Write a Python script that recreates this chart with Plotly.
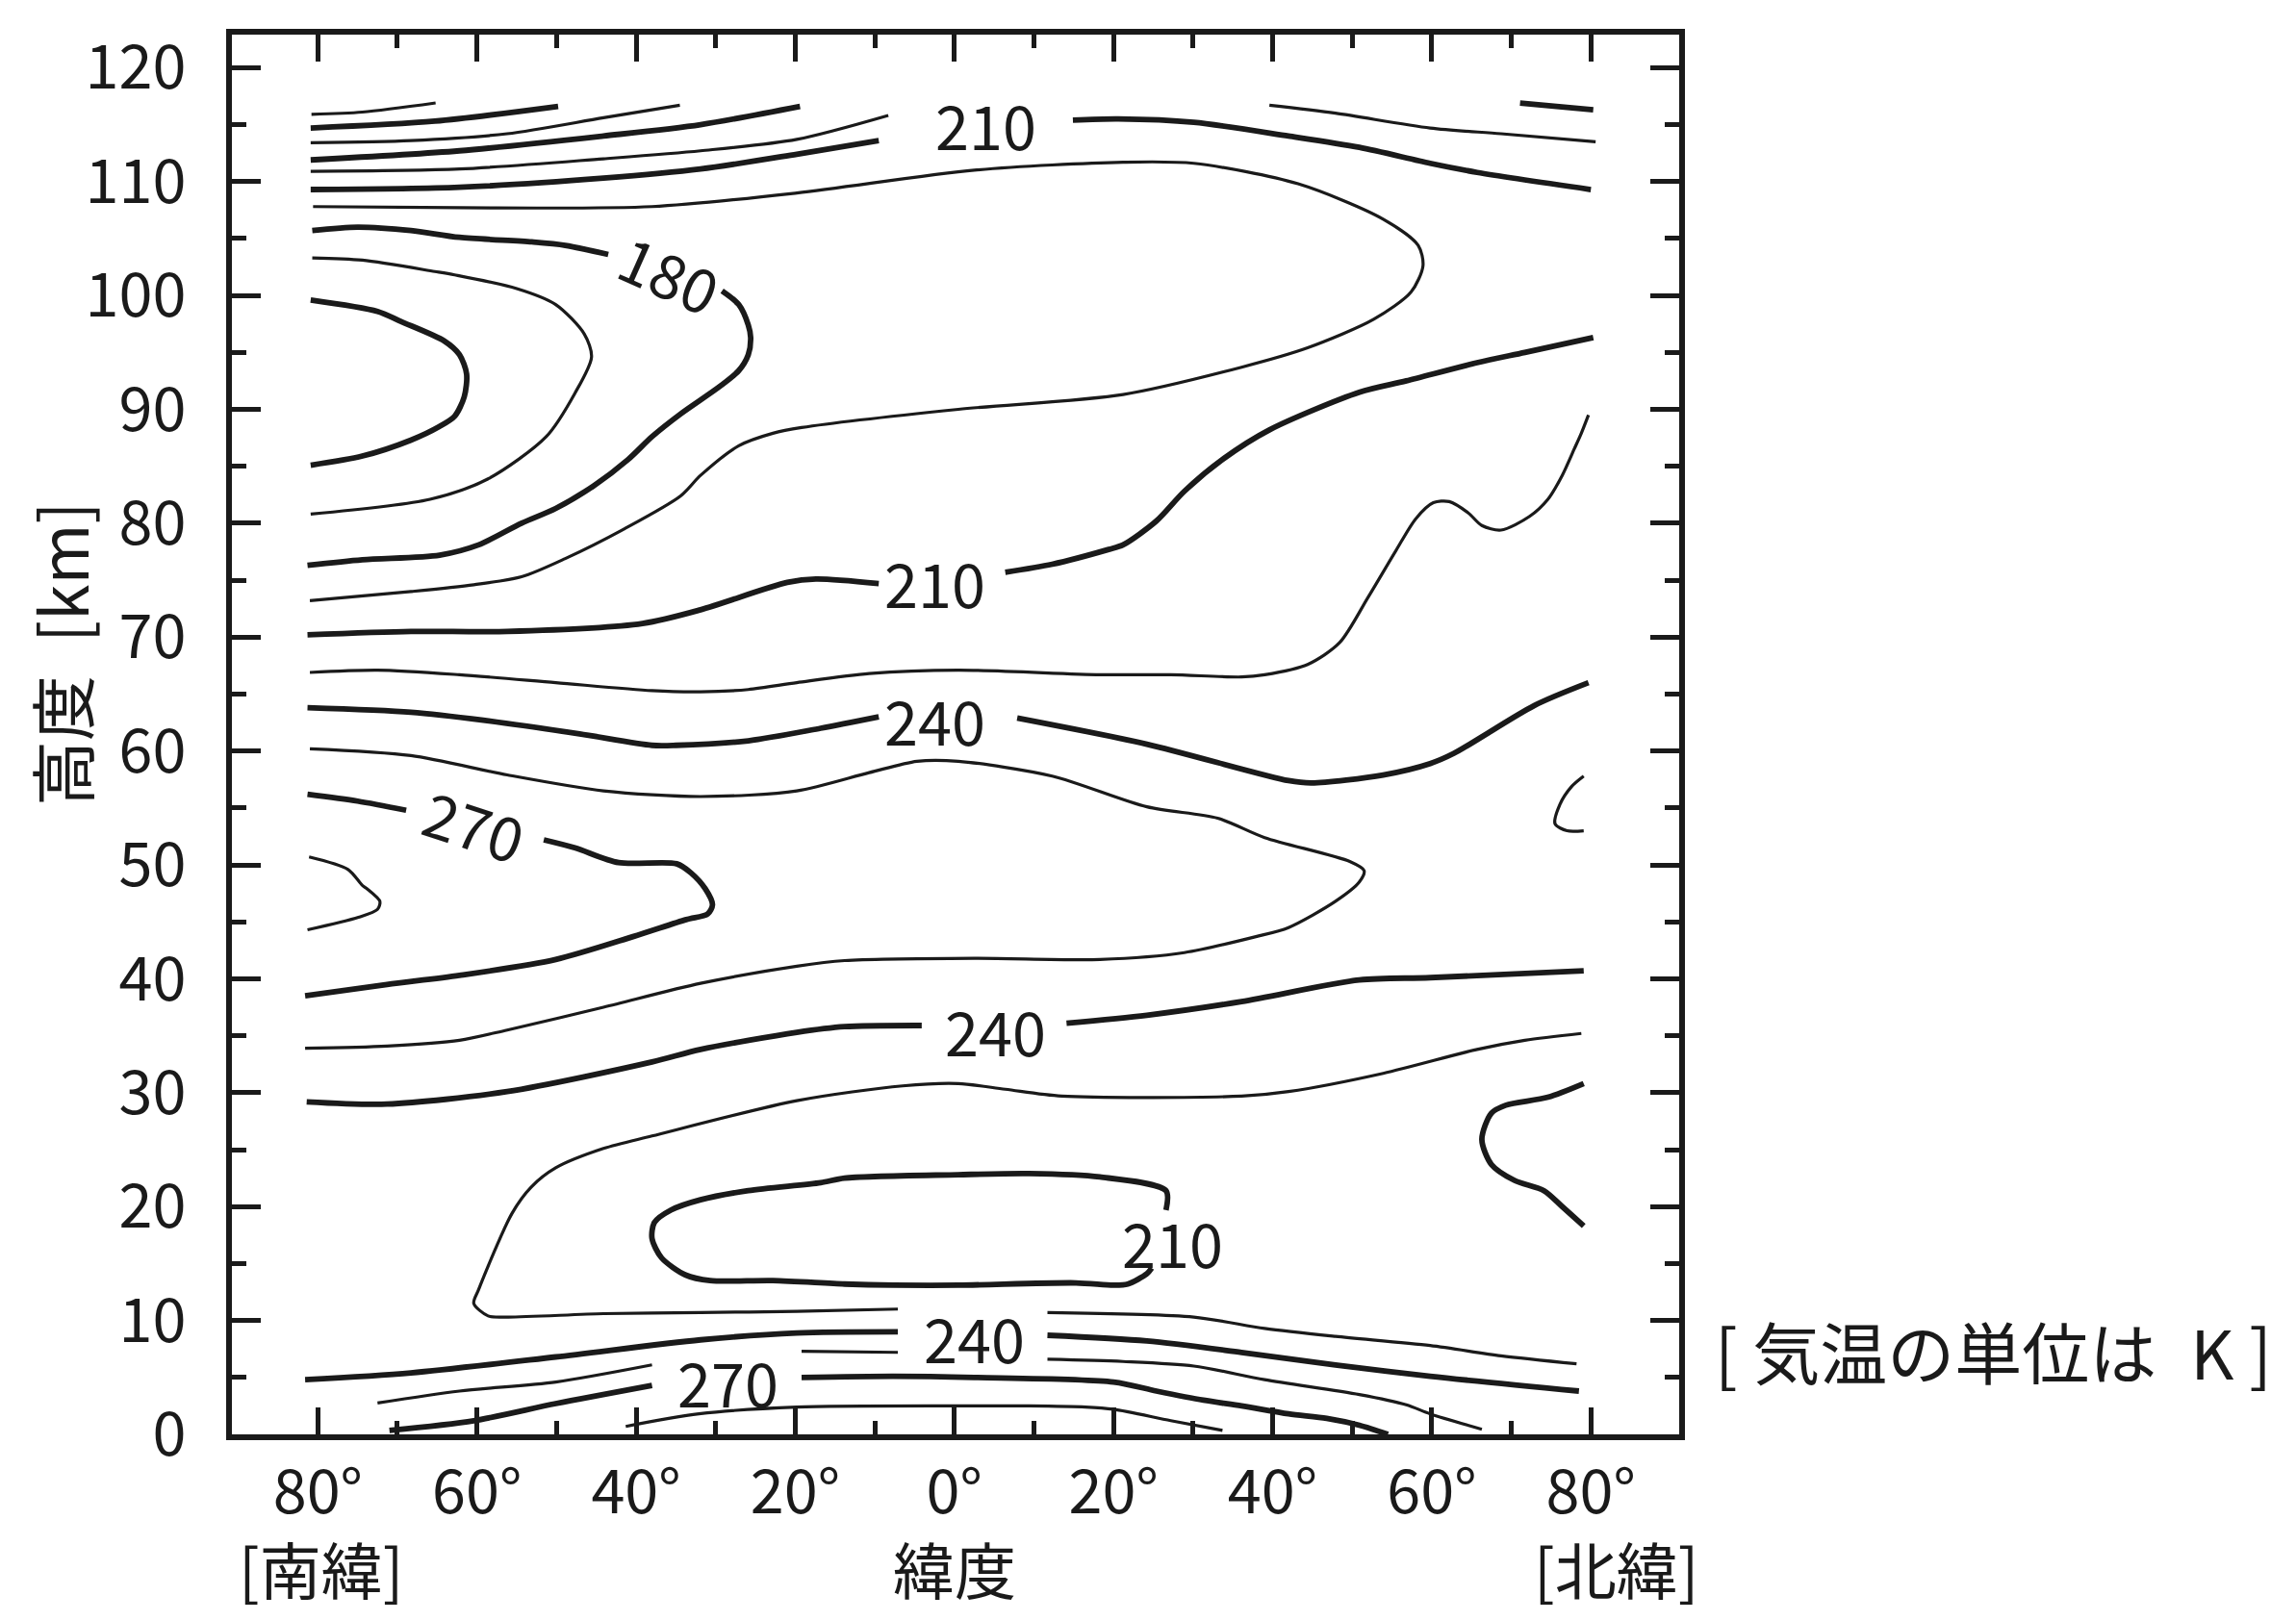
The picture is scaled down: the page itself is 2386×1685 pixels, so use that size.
import plotly.graph_objects as go

# Step 1: contour lines, as (latitude, altitude km) pairs.
# negative latitude = south. Name = temperature in K, suffix = piece of the line.
k285_top = [(-80.8, 115.9), (-74.4, 116.1), (-65.2, 116.9)]
k270_top = [(-80.9, 114.7), (-65.3, 115.3), (-49.8, 116.6)]
k255_top = [(-80.9, 113.4), (-68.3, 113.6), (-56.2, 114.2), (-44.1, 115.6), (-34.5, 116.7)]
k240_top = [(-80.9, 111.9), (-62.2, 112.7), (-44.1, 114.0), (-31.9, 115.0), (-19.4, 116.6)]
k240_top_r = [(71.1, 116.9), (80.3, 116.3)]
k225_top = [(-80.9, 110.9), (-62.2, 111.1), (-44.1, 112.0), (-31.9, 112.7), (-19.8, 113.7), (-8.3, 115.8)]
k225_top_r = [(39.6, 116.7), (47.9, 116.0), (59.8, 114.7), (68.7, 114.2), (80.6, 113.5)]
k210_top = [(-80.9, 109.3), (-62.2, 109.5), (-44.1, 110.3), (-31.9, 111.1), (-19.8, 112.4), (-9.5, 113.6)]
k210_top_r = [(14.9, 115.4), (20.6, 115.5), (30.1, 115.2), (42.0, 114.0), (50.9, 113.0),
              (59.8, 111.6), (65.7, 110.8), (80.0, 109.3)]
k195 = [(-80.6, 107.8), (-62.2, 107.7), (-38.0, 107.8), (-19.8, 109.0), (2.5, 111.0), (21.2, 111.7),
        (30.1, 111.6), (43.2, 109.8), (53.9, 106.7), (58.3, 104.4), (58.9, 102.6), (57.4, 100.3),
        (52.7, 97.9), (44.4, 95.4), (36.1, 93.7), (21.2, 91.3), (0.5, 90.0), (-19.2, 88.4),
        (-22.8, 87.9), (-27.1, 86.8), (-31.9, 84.2), (-34.4, 82.4), (-41.5, 79.5), (-48.9, 76.9),
        (-54.4, 75.3), (-60.4, 74.6), (-68.3, 74.0), (-81.0, 73.2)]
k180 = [(-80.7, 105.7), (-75.0, 106.0), (-68.3, 105.7), (-62.2, 105.1), (-53.1, 104.7),
        (-48.9, 104.4), (-43.5, 103.6)]
k180_r = [(-29.2, 100.4), (-27.1, 99.2), (-25.9, 97.4), (-25.6, 96.3), (-25.9, 94.8), (-27.1, 93.4),
          (-29.5, 92.0), (-34.4, 89.6), (-38.0, 87.6), (-41.0, 85.6), (-45.3, 83.3), (-50.1, 81.3),
          (-54.4, 80.0), (-59.8, 78.1), (-64.7, 77.2), (-74.4, 76.8), (-81.3, 76.3)]
k165 = [(-80.7, 103.3), (-74.4, 103.1), (-65.3, 102.1), (-62.8, 101.8), (-55.0, 100.6), (-50.1, 99.2),
        (-46.5, 96.6), (-45.6, 94.6), (-47.7, 91.4), (-51.3, 87.6), (-58.6, 83.9), (-65.9, 82.1),
        (-80.9, 80.8)]
k150 = [(-80.9, 99.6), (-72.5, 98.6), (-69.5, 97.7), (-64.1, 96.0), (-62.2, 94.8), (-61.3, 93.1),
        (-61.6, 91.1), (-62.8, 89.4), (-64.7, 88.5), (-68.3, 87.3), (-74.4, 85.9), (-80.9, 85.1)]
k210_mid = [(-81.3, 70.2), (-68.3, 70.5), (-56.2, 70.5), (-39.2, 71.2), (-31.9, 72.4), (-21.0, 74.8),
            (-17.4, 75.1), (-9.5, 74.7)]
k210_mid_r = [(6.4, 75.7), (12.3, 76.4), (19.4, 77.7), (21.2, 78.1), (25.4, 80.2), (28.9, 82.8),
              (33.7, 85.6), (39.6, 88.2), (50.9, 91.5), (56.8, 92.5), (65.7, 94.1), (71.7, 95.0),
              (80.3, 96.3)]
k225_mid = [(-81.0, 66.9), (-72.5, 67.1), (-62.2, 66.7), (-50.1, 66.0), (-38.0, 65.3), (-31.9, 65.2),
            (-25.9, 65.4), (-19.8, 66.0), (-10.7, 66.8), (0.5, 67.1), (18.3, 66.7), (27.2, 66.7),
            (36.1, 66.5), (39.0, 66.7), (44.4, 67.6), (48.4, 69.5), (52.0, 73.5), (55.5, 77.6),
            (58.0, 80.4), (60.2, 81.8), (62.2, 81.9), (64.6, 80.9), (66.3, 79.8), (68.7, 79.4),
            (72.3, 80.6), (74.6, 82.1), (76.4, 84.2), (77.9, 86.5), (78.8, 87.9), (79.7, 89.5)]
k240_mid = [(-81.3, 63.8), (-68.3, 63.4), (-59.2, 62.7), (-47.1, 61.5), (-38.0, 60.5), (-35.0, 60.5),
            (-25.9, 60.9), (-16.8, 62.0), (-9.5, 63.0)]
k240_mid_r = [(7.9, 62.9), (24.2, 60.6), (42.0, 57.4), (44.9, 57.2), (53.9, 57.9), (59.8, 58.9),
              (62.8, 59.8), (72.9, 64.0), (79.7, 66.0)]
k255_mid = [(-81.0, 60.2), (-68.3, 59.6), (-56.2, 57.9), (-44.1, 56.5), (-31.9, 56.0), (-19.8, 56.5),
            (-10.7, 58.1), (-4.7, 59.1), (0.5, 59.1), (12.3, 57.8), (24.2, 55.1), (33.1, 54.1),
            (39.0, 52.4), (49.7, 50.3), (51.5, 49.5), (50.9, 48.5), (47.9, 46.8), (42.0, 44.5),
            (37.9, 43.7), (28.9, 42.3), (18.3, 41.7), (2.5, 41.8), (-13.8, 41.6), (-19.8, 41.1),
            (-31.9, 39.6), (-44.1, 37.5), (-56.2, 35.5), (-62.2, 34.6), (-71.3, 34.1), (-81.6, 33.9)]
k255_hook = [(79.1, 57.8), (77.6, 56.9), (76.1, 55.3), (75.5, 53.6), (77.0, 53.0), (79.1, 53.0)]
k270_mid = [(-81.3, 56.2), (-75.0, 55.6), (-68.9, 54.8)]
k270_mid_r = [(-51.6, 52.2), (-47.7, 51.5), (-42.2, 50.2), (-34.9, 50.1), (-33.1, 49.3), (-31.3, 47.9),
              (-30.4, 46.5), (-31.0, 45.7), (-33.7, 45.2), (-40.4, 43.7), (-50.1, 41.7), (-62.2, 40.3),
              (-71.3, 39.5), (-81.6, 38.5)]
k285_mid = [(-81.1, 50.7), (-76.2, 49.6), (-74.4, 48.2), (-73.8, 47.9), (-72.2, 46.8), (-72.5, 46.1),
            (-74.9, 45.4), (-81.3, 44.3)]
k240_low = [(-81.4, 29.2), (-71.3, 29.0), (-56.2, 30.1), (-38.0, 32.7), (-31.9, 33.8), (-19.8, 35.3),
            (-13.8, 35.8), (-4.1, 35.9)]
k240_low_r = [(14.1, 36.1), (24.2, 36.8), (36.1, 38.0), (50.9, 39.9), (59.8, 40.1), (79.1, 40.7)]
k225_low = [(78.8, 35.2), (71.7, 34.6), (65.7, 33.8), (53.9, 31.7), (42.0, 30.1), (36.1, 29.7),
            (13.5, 29.7), (6.4, 30.3), (0.5, 30.8), (-6.5, 30.6), (-19.8, 29.3), (-38.0, 26.2),
            (-44.1, 25.1), (-50.1, 23.4), (-53.2, 21.7), (-55.6, 19.4), (-59.8, 12.7), (-60.4, 11.5),
            (-58.6, 10.4), (-56.2, 10.3), (-44.1, 10.6), (-31.9, 10.7), (-19.8, 10.8), (-7.1, 11.0)]
k225_low_r = [(11.7, 10.7), (30.1, 10.3), (39.0, 9.3), (47.9, 8.6), (59.8, 7.8), (68.7, 6.9), (78.2, 6.2)]
k210_low = [(26.6, 19.7), (26.6, 21.4), (18.3, 22.6), (9.4, 22.9), (0.5, 22.8), (-13.8, 22.5),
            (-16.8, 22.1), (-25.9, 21.4), (-31.9, 20.6), (-35.6, 19.7), (-37.7, 18.6), (-38.0, 17.2),
            (-36.8, 15.5), (-33.8, 14.0), (-30.7, 13.5), (-22.8, 13.5), (-13.8, 13.2), (-7.7, 13.1),
            (0.5, 13.1), (15.3, 13.3), (20.0, 13.1), (21.8, 13.2), (24.2, 14.1), (24.8, 14.6)]
k210_polar = [(79.1, 30.8), (74.6, 29.6), (69.3, 28.9), (67.5, 28.2), (66.3, 25.9), (67.5, 23.7),
              (70.4, 22.3), (74.1, 21.4), (76.4, 20.0), (79.1, 18.3)]
k240_bot = [(-81.6, 4.8), (-68.3, 5.4), (-50.1, 6.8), (-31.9, 8.3), (-19.8, 8.9), (-7.1, 9.0)]
k240_bot_r = [(11.7, 8.7), (24.2, 8.2), (36.1, 7.2), (47.9, 6.1), (59.8, 5.1), (78.5, 3.8)]
k255_bot = [(-72.5, 2.75), (-62.2, 3.8), (-50.1, 4.6), (-38.0, 6.1)]
k255_bot_m = [(-19.2, 7.3), (-7.1, 7.2)]
k255_bot_r = [(11.7, 6.6), (21.2, 6.4), (30.1, 6.0), (39.0, 4.8), (50.9, 3.5), (56.8, 2.6),
              (59.8, 1.8), (66.3, 0.45)]
k270_bot = [(-71.0, 0.35), (-60.4, 1.2), (-50.1, 2.7), (-38.0, 4.3)]
k270_bot_r = [(-19.2, 5.0), (-7.7, 5.1), (2.5, 5.0), (20.0, 4.6), (25.4, 3.8), (31.3, 3.0),
              (36.1, 2.5), (42.0, 1.8), (46.8, 1.4), (50.9, 0.8), (54.5, 0.0)]
k285_bot = [(-41.3, 0.7), (-32.1, 1.8), (-19.8, 2.4), (2.5, 2.5), (9.4, 2.5), (16.5, 2.4),
            (20.0, 2.2), (27.2, 1.2), (33.7, 0.35)]

# contour labels
label_text = ['210', '180', '210', '240', '270', '240', '210', '240', '270']
label_lat = [4.0, -35.7, -2.5, -2.4, -60.3, 5.2, 27.4, 2.5, -28.4]
label_alt = [115.1, 102.0, 74.9, 62.8, 53.6, 35.5, 16.9, 8.6, 4.7]

# axis ticks
lat_ticks = [-80, -60, -40, -20, 0, 20, 40, 60, 80]
lat_tick_text = ['80°', '60°', '40°', '20°', '0°', '20°', '40°', '60°', '80°']
lat_minor = [-70, -50, -30, -10, 10, 30, 50, 70]

# Step 2: (temperature, line) pairs; every 30 K is drawn thick
lines = [
    (285, k285_top), (270, k270_top), (255, k255_top), (240, k240_top), (240, k240_top_r),
    (225, k225_top), (225, k225_top_r), (210, k210_top), (210, k210_top_r), (195, k195),
    (180, k180), (180, k180_r), (165, k165), (150, k150),
    (210, k210_mid), (210, k210_mid_r), (225, k225_mid), (240, k240_mid), (240, k240_mid_r),
    (255, k255_mid), (255, k255_hook), (270, k270_mid), (270, k270_mid_r), (285, k285_mid),
    (240, k240_low), (240, k240_low_r), (225, k225_low), (225, k225_low_r), (210, k210_low),
    (210, k210_polar), (240, k240_bot), (240, k240_bot_r), (255, k255_bot), (255, k255_bot_m),
    (255, k255_bot_r), (270, k270_bot), (270, k270_bot_r), (285, k285_bot),
]

INK = '#1a1a1a'
FONT = 'Noto Sans CJK JP, sans-serif'

fig = go.Figure()
for temp, pts in lines:
    fig.add_trace(go.Scatter(
        x=[p[0] for p in pts],
        y=[p[1] for p in pts],
        mode='lines',
        line=dict(color=INK, width=5.8 if temp % 30 == 0 else 3.2, shape='spline', smoothing=0.8),
        hoverinfo='skip',
        showlegend=False,
    ))

# label tilt (degrees clockwise) for the two slanted labels
tilt = {1: 24, 4: 18}
for i, txt in enumerate(label_text):
    fig.add_annotation(x=label_lat[i], y=label_alt[i], text=txt, showarrow=False,
                       xanchor='center', yanchor='middle', textangle=tilt.get(i, 0),
                       font=dict(family=FONT, size=63, color=INK))

# axis texts
jp = dict(family=FONT, size=64, color=INK)
for lat, txt in [(0, '緯度'), (-79.6, '[南緯]'), (83.2, '[北緯]')]:
    fig.add_annotation(x=lat, y=-0.095, xref='x', yref='paper', text=txt, showarrow=False,
                       xanchor='center', yanchor='middle', font=jp)
fig.add_annotation(x=-0.119, y=68.5, xref='paper', yref='y', text='高度\u2002[km]', showarrow=False,
                   xanchor='center', yanchor='middle', textangle=-90,
                   font=dict(family=FONT, size=68, color=INK))
fig.add_annotation(x=1.217, y=7.4, xref='paper', yref='y', text='[ 気温の単位は\u2002K ]',
                   showarrow=False, xanchor='center', yanchor='middle',
                   font=dict(family=FONT, size=70, color=INK))

axis_common = dict(
    ticks='inside', tickwidth=4.5, tickcolor=INK,
    showline=True, linewidth=6, linecolor=INK, mirror='allticks',
    showgrid=False, zeroline=False,
    tickfont=dict(family=FONT, size=63, color=INK),
)
fig.update_xaxes(range=[-90.8, 91.1], tickvals=lat_ticks, ticktext=lat_tick_text, ticklen=28,
                 ticklabelstandoff=0,
                 minor=dict(tickvals=lat_minor, ticks='inside', ticklen=14, tickwidth=4.5,
                            tickcolor=INK, showgrid=False),
                 **axis_common)
fig.update_yaxes(range=[0, 122.9], tick0=0, dtick=10, ticklen=30, ticklabelstandoff=29,
                 minor=dict(dtick=5, ticks='inside', ticklen=15, tickwidth=4.5,
                            tickcolor=INK, showgrid=False),
                 **axis_common)

# the page body keeps its default 8 px margin, so the figure is 16 px smaller
fig.update_layout(
    width=2370, height=1669,
    margin=dict(l=233, r=633, t=16, b=186),
    plot_bgcolor='white', paper_bgcolor='white',
    showlegend=False,
)

fig.write_html('out.html')
